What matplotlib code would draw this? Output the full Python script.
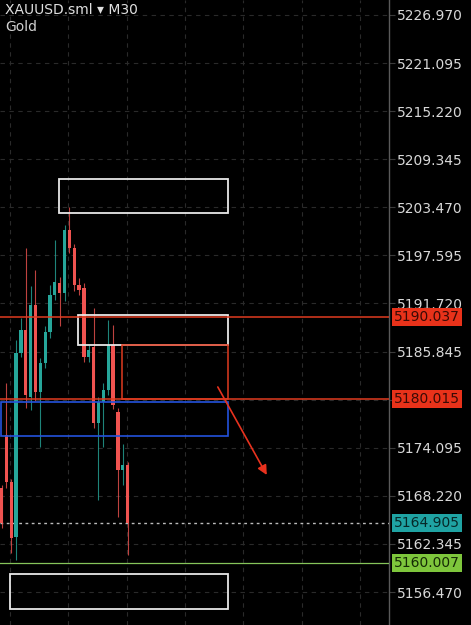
import numpy as np
import matplotlib
matplotlib.use("Agg")
import matplotlib.pyplot as plt
from matplotlib.patches import Rectangle

# XAUUSD M30 candles
opens = [5169.18, 5175.65, 5169.91, 5163.19, 5185.67, 5188.48, 5180.30, 5191.54, 5180.91,
         5184.45, 5188.24, 5192.76, 5194.23, 5193.00, 5200.70, 5198.50, 5193.98, 5193.61,
         5185.18, 5186.41, 5177.12, 5179.69, 5181.15, 5186.65, 5178.46, 5171.38, 5171.99]
highs = [5169.60, 5182.01, 5170.30, 5187.30, 5190.00, 5198.50, 5193.80, 5195.81, 5185.00,
         5189.00, 5194.00, 5199.48, 5195.00, 5201.30, 5203.51, 5199.00, 5194.80, 5194.20,
         5186.60, 5191.17, 5180.30, 5182.00, 5189.71, 5189.09, 5179.00, 5174.50, 5172.30]
lows = [5164.30, 5169.20, 5161.24, 5160.38, 5185.20, 5179.00, 5178.71, 5179.80, 5174.19,
        5183.90, 5187.50, 5192.20, 5189.00, 5192.00, 5197.90, 5193.30, 5192.80, 5184.60,
        5184.60, 5176.50, 5167.71, 5174.19, 5180.50, 5178.80, 5165.64, 5169.50, 5160.99]
closes = [5164.90, 5169.91, 5163.07, 5185.67, 5188.48, 5180.54, 5191.54, 5180.91, 5184.45,
          5188.24, 5192.76, 5194.35, 5193.00, 5200.70, 5198.50, 5193.98, 5193.37, 5185.18,
          5186.04, 5177.12, 5179.69, 5181.15, 5186.65, 5179.32, 5171.38, 5171.99, 5164.905]

price_ticks = [5156.470, 5162.345, 5168.220, 5174.095, 5179.970, 5185.845, 5191.720,
               5197.595, 5203.470, 5209.345, 5215.220, 5221.095, 5226.970]
hidden_ticks = [5179.970]

# drawn zones: (x0, x1, price low, price high)
white_boxes = [(11.86, 46.7, 5202.78, 5206.93),
               (15.77, 46.7, 5186.65, 5190.32),
               (1.75, 46.7, 5154.40, 5158.67)]
red_box = (24.85, 46.7, 5180.015, 5186.65)
blue_box = (-0.1, 46.7, 5175.53, 5179.69)
arrow_from = (44.6, 5181.52)
arrow_to = (54.7, 5170.77)

red_lines = [5190.037, 5180.015]
green_line = 5160.007
last_price = 5164.905

UP = "#26a69a"
DOWN = "#ef5350"
RED = "#e03c20"

fig = plt.figure(figsize=(4.71, 6.25), dpi=100, facecolor="black")
ax = fig.add_axes([0, 0, 389 / 471, 1])
ax.set_facecolor("black")
ax.set_xlim(-0.31, 79.9)
ax.set_ylim(5152.44, 5228.80)

# grid
for p in price_ticks:
    ax.axhline(p, color="#2a2a2a", lw=0.8, ls=(0, (4, 4)), zorder=0)
for gx in np.arange(1.75, 80, 12.03):
    ax.axvline(gx, color="#2a2a2a", lw=0.8, ls=(0, (4, 4)), zorder=0)

# candles
idx = np.arange(len(opens))
o = np.array(opens)
c = np.array(closes)
colors = [UP if cc >= oo else DOWN for oo, cc in zip(o, c)]
ax.vlines(idx, lows, highs, colors=colors, lw=0.8, alpha=0.8, zorder=2)
ax.bar(idx, np.abs(c - o), bottom=np.minimum(o, c), width=0.68, color=colors,
       edgecolor="none", zorder=3)

# zones
for x0, x1, y0, y1 in white_boxes:
    ax.add_patch(Rectangle((x0, y0), x1 - x0, y1 - y0, fill=False, ec="#e8e8e8",
                           lw=1.3, zorder=4))
x0, x1, y0, y1 = red_box
ax.add_patch(Rectangle((x0, y0), x1 - x0, y1 - y0, fill=False, ec=RED, lw=1.1, zorder=4))
x0, x1, y0, y1 = blue_box
ax.add_patch(Rectangle((x0, y0), x1 - x0, y1 - y0, fill=False, ec="#2452dc", lw=1.2, zorder=4))

for p in red_lines:
    ax.axhline(p, color=RED, lw=1.1, zorder=4)
ax.axhline(green_line, color="#86c45a", lw=0.9, zorder=4)
ax.axhline(last_price, color="#bbbbbb", lw=1.0, ls=(0, (2, 2.5)), zorder=1)

ax.annotate("", xy=arrow_to, xytext=arrow_from,
            arrowprops=dict(arrowstyle="-|>", color="#e8321e", lw=1.2,
                            mutation_scale=14, shrinkA=0, shrinkB=0), zorder=5)

# axis on the right
for s in ["top", "left", "bottom"]:
    ax.spines[s].set_visible(False)
ax.spines["right"].set_color("#5a5a5a")
ax.spines["right"].set_linewidth(1.0)
ax.set_xticks([])
ax.yaxis.tick_right()
ax.set_yticks(price_ticks)
ax.set_yticklabels(["" if p in hidden_ticks else f"{p:.3f}" for p in price_ticks])
ax.tick_params(axis="y", colors="#d8d8d8", length=4, width=0.8, pad=2,
               labelsize=10, color="#3a3a3a")

# price labels on the scale
tags = [(5190.037, "#e8321a", "#3a0a05"), (5180.015, "#e8321a", "#3a0a05"),
        (last_price, "#1fa3a3", "#062828"), (green_line, "#7ec63c", "#152a05")]
for p, bg, fg in tags:
    ax.text(1.0 + 5 / 389, p, f"{p:.3f}", transform=ax.get_yaxis_transform(),
            ha="left", va="center", fontsize=10, color=fg, clip_on=False, zorder=10,
            bbox=dict(boxstyle="square,pad=0.15", fc=bg, ec="none"))

fig.text(5 / 471, 1 - 10 / 625, "XAUUSD.sml \u25be M30", color="#e0e0e0",
         fontsize=10, va="center", ha="left")
fig.text(5 / 471, 1 - 27 / 625, "Gold", color="#d0d0d0", fontsize=10,
         va="center", ha="left")

fig.savefig("out.png", dpi=100, facecolor="black")
